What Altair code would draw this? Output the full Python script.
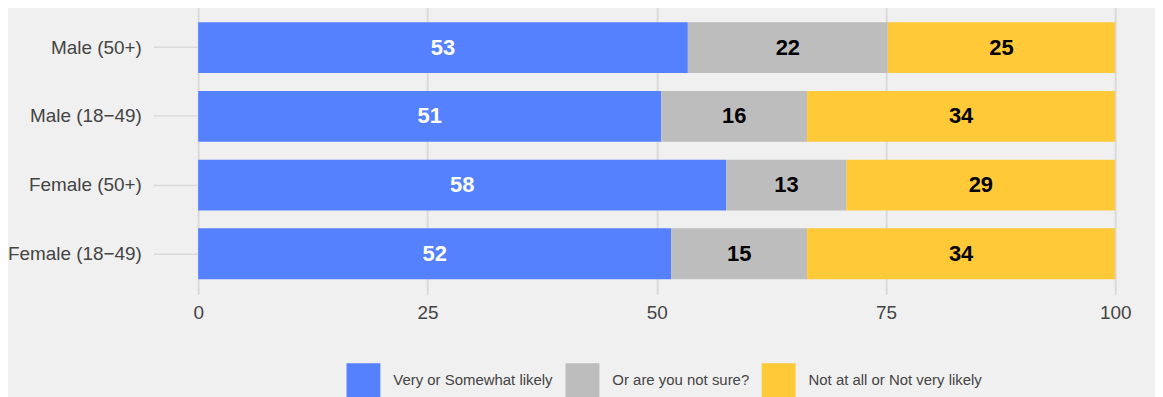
import altair as alt
import pandas as pd

groups = ["Male (50+)", "Male (18−49)", "Female (50+)", "Female (18−49)"]
responses = ["Very or Somewhat likely", "Or are you not sure?", "Not at all or Not very likely"]
likely = [53.4, 50.5, 57.6, 51.6]
unsure = [21.8, 15.9, 13.1, 14.8]
unlikely = [24.8, 33.6, 29.3, 33.6]
colors = ["#5581FF", "#BDBDBD", "#FFC938"]
x_ticks = [0, 25, 50, 75, 100]

rows = []
for i, g in enumerate(groups):
    for j, (r, series) in enumerate(zip(responses, [likely, unsure, unlikely])):
        rows.append({"group": g, "response": r, "order": j, "value": series[i]})
df = pd.DataFrame(rows)

FONT = "Liberation Sans"
GRID = "#D9D9D9"
LABEL = "#444444"

base = alt.Chart(df).transform_window(
    cum="sum(value)", sort=[alt.SortField("order")], groupby=["group"], frame=[None, 0]
).transform_calculate(
    start="datum.cum - datum.value",
    mid="datum.cum - datum.value / 2",
    label="format(round(datum.value), 'd')",
)

y_enc = alt.Y(
    "group:N",
    sort=groups,
    scale=alt.Scale(paddingInner=0.26, paddingOuter=0.224),
    axis=alt.Axis(
        title=None, domain=False, grid=False, ticks=True, tickSize=45,
        tickColor=GRID, tickWidth=1.5, labelPadding=12, labelFontSize=19,
        labelColor=LABEL, labelFont=FONT, labelLimit=0,
    ),
)

bars = base.mark_bar().encode(
    x=alt.X(
        "start:Q",
        scale=alt.Scale(domain=[0, 100], nice=False),
        axis=alt.Axis(
            values=x_ticks, title=None, grid=True, gridColor=GRID, gridWidth=2,
            domain=False, ticks=False, tickSize=0, labelPadding=9,
            labelFontSize=19, labelColor=LABEL, labelFont=FONT,
            labelFlush=False,
        ),
    ),
    x2="cum:Q",
    y=y_enc,
    color=alt.Color(
        "response:N",
        scale=alt.Scale(domain=responses, range=colors),
        legend=alt.Legend(
            title=None, orient="none", legendX=149, legendY=358,
            direction="horizontal", symbolType="square", symbolSize=1156,
            symbolStrokeWidth=0, symbolOpacity=1, labelFontSize=15,
            labelColor=LABEL, labelFont=FONT, labelOffset=13, labelLimit=0,
            columnPadding=12, padding=0,
        ),
    ),
)

text = base.mark_text(font=FONT, fontSize=22, fontWeight="bold").encode(
    x="mid:Q",
    y=alt.Y("group:N", sort=groups),
    text="label:N",
    color=alt.condition(alt.datum.order == 0, alt.value("white"), alt.value("black")),
)

chart = alt.layer(bars, text).properties(
    width=921,
    height=289,
    autosize="none",
    padding={"left": 191, "top": -2, "right": 40, "bottom": 102},
    background="#F0F0F0",
).configure_view(stroke=None)

chart.save("out.html", embed_options={"renderer": "svg", "actions": False})
